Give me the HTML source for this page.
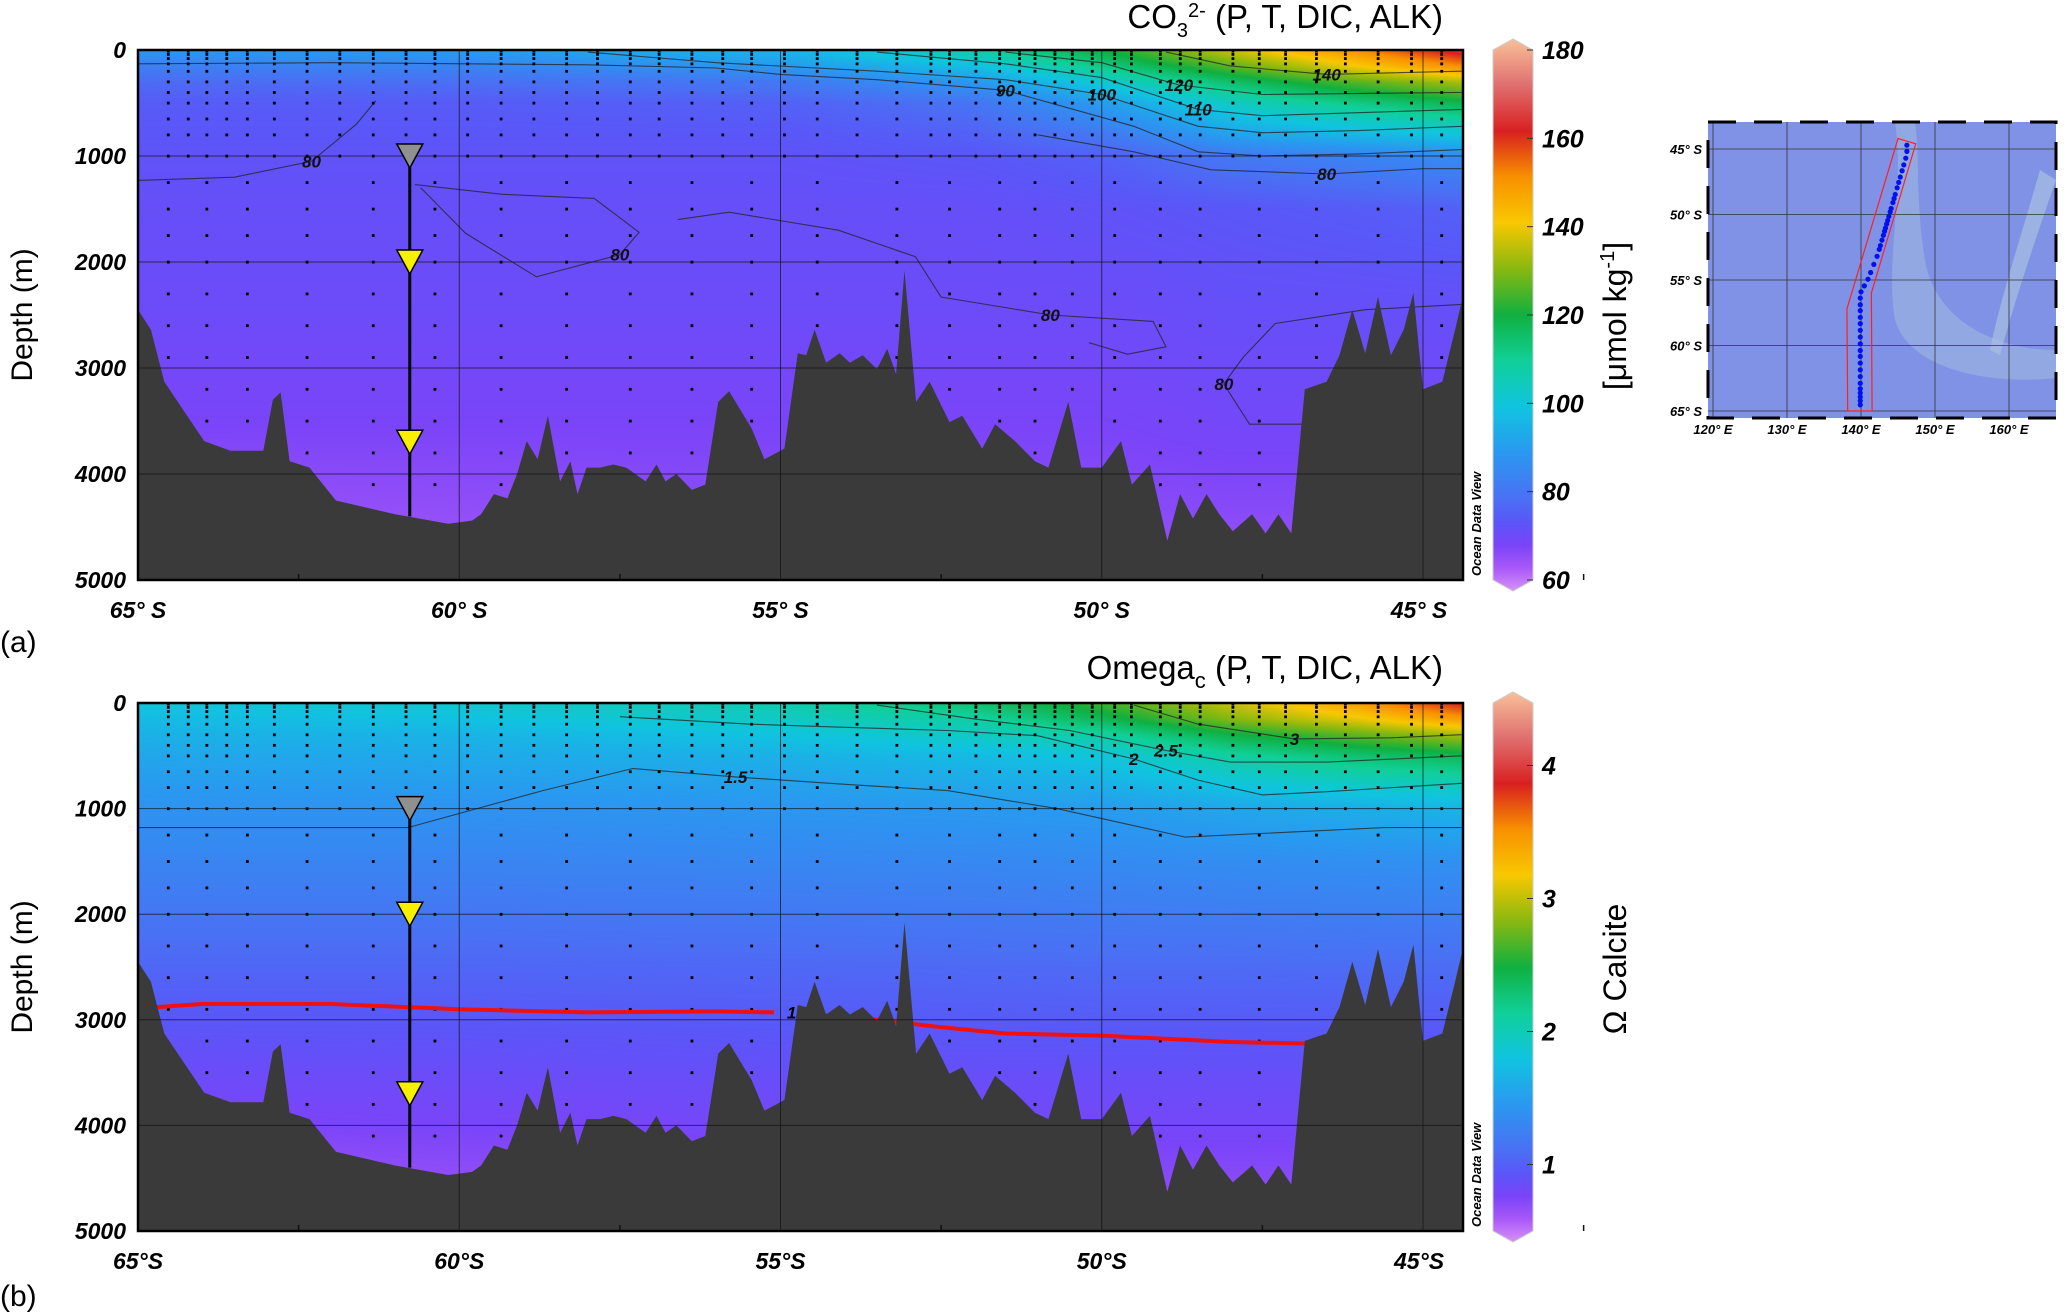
<!DOCTYPE html>
<html><head><meta charset="utf-8"><style>
html,body{margin:0;padding:0;background:#fff;}
#wrap{position:relative;width:2067px;height:1313px;overflow:hidden;font-family:"Liberation Sans",sans-serif;}
canvas{position:absolute;}
svg{position:absolute;left:0;top:0;}
</style></head><body>
<div id="wrap">
<canvas id="cvA" width="1325" height="530" style="left:138px;top:50px"></canvas>
<canvas id="cvB" width="1325" height="528" style="left:138px;top:703px"></canvas>
<svg id="sv" width="2067" height="1313"></svg>
</div>
<script>
// ---- data ----
const gridLats=[-65,-60,-55,-52,-50,-48,-46,-44.4];
const gridDepths=[0,150,300,500,800,1000,1500,2500,3500,4500,5000];
const co3Values=[
[90,91,97,108,120,136,150,163],
[84,85,90,99,112,126,140,150],
[79,80,82,90,102,115,126,133],
[76,76,77,81,91,104,112,118],
[75,75,75,77,82,92,97,100],
[74,74,74,75,77,82,85,87],
[73,73,73,73,74,75,76,77],
[72,72,72,72,72,73,73,73],
[70,70,70,70,70,71,71,71],
[66,67,68,68,68,68,68,68],
[64,65,66,66,66,66,66,66]];
const omegaValues=[
[1.85,1.9,2.05,2.3,2.6,3.0,3.4,3.8],
[1.75,1.8,1.95,2.1,2.4,2.8,3.1,3.4],
[1.68,1.7,1.82,1.95,2.1,2.45,2.7,2.9],
[1.6,1.62,1.68,1.75,1.85,2.1,2.3,2.4],
[1.5,1.52,1.55,1.6,1.65,1.8,1.9,1.95],
[1.45,1.45,1.48,1.5,1.52,1.6,1.65,1.7],
[1.33,1.33,1.35,1.36,1.38,1.4,1.42,1.43],
[1.1,1.1,1.11,1.12,1.13,1.13,1.14,1.14],
[0.9,0.91,0.93,0.93,0.93,0.93,0.93,0.93],
[0.72,0.75,0.78,0.78,0.78,0.78,0.78,0.78],
[0.66,0.7,0.72,0.72,0.72,0.72,0.72,0.72]];
const bathyLat=[-65,-64.8,-64.59,-64.38,-63.97,-63.56,-63.05,-62.9,-62.78,-62.64,-62.33,-61.92,-61.0,-60.17,-59.8,-59.66,-59.46,-59.25,-59.1,-58.95,-58.78,-58.62,-58.43,-58.27,-58.16,-58.02,-57.81,-57.6,-57.4,-57.1,-56.93,-56.79,-56.62,-56.38,-56.17,-55.97,-55.8,-55.45,-55.25,-54.94,-54.73,-54.6,-54.47,-54.29,-54.08,-53.92,-53.72,-53.5,-53.34,-53.2,-53.07,-52.89,-52.68,-52.37,-52.17,-51.86,-51.66,-51.35,-51.04,-50.83,-50.52,-50.32,-50.0,-49.7,-49.53,-49.25,-48.98,-48.78,-48.58,-48.37,-48.17,-47.96,-47.66,-47.45,-47.25,-47.05,-46.84,-46.5,-46.3,-46.1,-45.9,-45.7,-45.5,-45.3,-45.15,-45.0,-44.7,-44.5,-44.38];
const bathyDepth=[2450,2640,3130,3320,3690,3780,3780,3300,3230,3880,3940,4250,4380,4470,4440,4380,4190,4230,4000,3690,3860,3450,4070,3880,4190,3940,3940,3910,3940,4070,3910,4070,4000,4150,4100,3320,3220,3570,3860,3760,2860,2880,2640,2950,2860,2950,2880,3010,2820,3060,2080,3320,3130,3510,3450,3760,3530,3690,3880,3940,3320,3940,3940,3690,4100,3910,4630,4190,4420,4190,4380,4540,4380,4560,4380,4560,3200,3130,2880,2450,2860,2330,2880,2640,2290,3200,3130,2640,2330];
const stationLats=[-64.53,-64.22,-63.93,-63.62,-63.30,-62.88,-62.37,-61.86,-61.34,-60.83,-60.38,-59.87,-59.35,-58.84,-58.33,-57.85,-57.34,-56.89,-56.38,-55.90,-55.45,-54.94,-54.43,-53.81,-53.19,-52.66,-52.37,-51.96,-51.59,-51.28,-51.04,-50.73,-50.46,-50.15,-49.8,-49.54,-49.09,-48.78,-48.47,-47.96,-47.55,-47.14,-46.66,-46.21,-45.70,-45.18,-44.71];
const sampleDepths=[10,40,80,130,200,300,400,500,650,800,1000,1250,1500,1750,2000,2300,2600,2900,3200,3500,3800,4100];
const omega1Lat=[-64.7,-64,-62,-60,-58,-56,-55.1];
const omega1Depth=[2880,2850,2850,2900,2930,2920,2930];
const omega1bLat=[-54.7,-53.5,-52.5,-51.5,-50,-48,-46.4];
const omega1bDepth=[2940,3000,3070,3130,3150,3210,3230];
const co3Contours=[
 {label:"90",lat:[-65,-62,-58,-56,-55,-53.5,-51.5,-49.5,-48.5,-47.5,-46,-44.4],d:[130,120,140,170,230,280,380,720,960,1000,980,940]},
 {label:"100",lat:[-58,-56,-53.5,-51.5,-50,-48.5,-47.5,-46,-44.4],d:[20,120,200,280,420,720,780,760,720]},
 {label:"110",lat:[-53.5,-51.5,-50,-48.5,-47.5,-44.4],d:[20,130,260,560,620,560]},
 {label:"120",lat:[-51.5,-50,-48.8,-47.5,-44.4],d:[20,120,330,420,400]},
 {label:"140",lat:[-49,-48,-46.5,-44.4],d:[20,150,230,200]},
 {label:"80",lat:[-51,-49.5,-48.3,-46.5,-45,-44.4],d:[800,960,1130,1170,1120,1120]},
 {label:"80",lat:[-65,-63.5,-62.3,-61.6,-61.3],d:[1230,1200,1050,700,480]},
 {label:"80",lat:[-60.69,-59.35,-57.9,-57.2,-57.5,-58.8,-59.9,-60.6],d:[1270,1360,1400,1720,1930,2140,1730,1300]},
 {label:"80",lat:[-56.6,-55.8,-54.1,-52.9,-52.5,-50.8,-49.2,-49.0,-49.6,-50.2],d:[1600,1530,1700,1950,2330,2500,2560,2800,2870,2760]},
 {label:"80",lat:[-44.4,-45.9,-47.3,-47.8,-48.1,-47.7,-46.7,-46.3,-45.7],d:[2400,2450,2580,2900,3150,3530,3530,3300,3280]}];
const omegaContours=[
 {label:"1.5",lat:[-65,-62,-60.8,-60.2,-58.7,-57.9,-57.3,-55.7,-54,-52.4,-50.7,-48.7,-45.6,-44.4],d:[1180,1180,1180,1080,830,710,620,700,770,830,1000,1270,1180,1180]},
 {label:"2",lat:[-57.5,-55.5,-54,-52.4,-51,-49.5,-48.5,-47.5,-46.5,-44.4],d:[130,200,230,260,310,530,730,870,840,760]},
 {label:"2.5",lat:[-53.5,-52,-50.5,-49,-48,-46.5,-44.4],d:[20,150,260,450,560,560,500]},
 {label:"3",lat:[-49.5,-48.5,-47,-45.5,-44.4],d:[20,200,340,330,300]}];
const co3Ticks=[60,80,100,120,140,160,180];
const omegaTicks=[1,2,3,4];
const latTicks=[-65,-60,-55,-50,-45];
const depthTicks=[0,1000,2000,3000,4000,5000];
const mooringLat=-60.77;
const mooringInstrDepths=[1000,2000,3700];
const mapLonTicks=[120,130,140,150,160];
const mapLatTicks=[45,50,55,60,65];
const trackLat=[-65,-56,-55,-53,-45.4];
const trackLon=[139.9,139.9,140.9,142.3,146.2];
const boxLon=[138.2,141.5,141.4,147.4,145.0,138.1];
const boxLat=[65,65,56,44.6,44.2,57.2];
const cmapT=[0,0.042,0.083,0.125,0.167,0.25,0.333,0.417,0.5,0.583,0.667,0.75,0.833,0.917,1];
const cmapC=["#d890f8","#a858f8","#7a44f8","#5a56f8","#4a70f4","#2a98f0","#10c4e0","#10d098","#10b040","#88b810","#f8c800","#f89000","#d82020","#e07070","#f8c098"];

const X0=138,X1=1463;
const xLat=l=>X0+(l+65)*(1285/20);
const plots=[{y0:50,y1:580},{y0:703,y1:1231}];
const yD=(p,d)=>p.y0+d/5000*(p.y1-p.y0);

function interp(xs,ys,x){if(x<=xs[0])return ys[0];for(let i=1;i<xs.length;i++){if(x<=xs[i]){const t=(x-xs[i-1])/(xs[i]-xs[i-1]);return ys[i-1]+t*(ys[i]-ys[i-1]);}}return ys[ys.length-1];}
function hex(c){return[parseInt(c.substr(1,2),16),parseInt(c.substr(3,2),16),parseInt(c.substr(5,2),16)];}
const cmapRGB=cmapC.map(hex);
function cmap(t){t=Math.max(0,Math.min(1,t));for(let i=1;i<cmapT.length;i++){if(t<=cmapT[i]){const f=(t-cmapT[i-1])/(cmapT[i]-cmapT[i-1]);const a=cmapRGB[i-1],b=cmapRGB[i];return[a[0]+f*(b[0]-a[0]),a[1]+f*(b[1]-a[1]),a[2]+f*(b[2]-a[2])];}}return cmapRGB[cmapRGB.length-1];}
function field(vals,lat,d){
 let j=0;while(j<gridLats.length-2&&lat>gridLats[j+1])j++;
 let i=0;while(i<gridDepths.length-2&&d>gridDepths[i+1])i++;
 const fx=Math.max(0,Math.min(1,(lat-gridLats[j])/(gridLats[j+1]-gridLats[j])));
 const fy=Math.max(0,Math.min(1,(d-gridDepths[i])/(gridDepths[i+1]-gridDepths[i])));
 const a=vals[i][j]*(1-fx)+vals[i][j+1]*fx,b=vals[i+1][j]*(1-fx)+vals[i+1][j+1]*fx;return a*(1-fy)+b*fy;}
function drawField(id,vals,vmin,vmax){
 const cv=document.getElementById(id),ctx=cv.getContext('2d'),W=cv.width,H=cv.height;
 const img=ctx.createImageData(W,H);
 for(let y=0;y<H;y++){const d=y/H*5000;for(let x=0;x<W;x++){const lat=-65+x/(1285/20);
  const c=cmap((field(vals,lat,d)-vmin)/(vmax-vmin));const k=(y*W+x)*4;img.data[k]=c[0];img.data[k+1]=c[1];img.data[k+2]=c[2];img.data[k+3]=255;}}
 ctx.putImageData(img,0,0);}
drawField('cvA',co3Values,60,180);
drawField('cvB',omegaValues,0.5,4.47);

const NS='http://www.w3.org/2000/svg';const sv=document.getElementById('sv');
function el(tag,attrs,parent,txt){const e=document.createElementNS(NS,tag);for(const k in attrs)e.setAttribute(k,attrs[k]);if(txt!==undefined)e.textContent=txt;(parent||sv).appendChild(e);return e;}

plots.forEach((p,pi)=>{
 const g=el('g',{});
 
 
 (pi?omegaContours:co3Contours).forEach(c=>{
  const pts=c.lat.map((l,k)=>xLat(l).toFixed(1)+','+yD(p,c.d[k]).toFixed(1)).join(' ');
  const pl=el('polyline',{points:pts,fill:'none',stroke:'#222','stroke-width':1.1,'stroke-opacity':0.75},g);
  
  
  const m=Math.floor(c.lat.length/2);
  const lb=el('text',{x:xLat(c.lat[m]),y:yD(p,c.d[m])+6,'font-size':17,'font-style':'italic','font-weight':'bold',fill:'#111','text-anchor':'middle'},g,c.label);
  
  
 });
 stationLats.forEach((l,si)=>{const bd=interp(bathyLat,bathyDepth,l);sampleDepths.forEach(d=>{if(d<bd-60&&(d<1100||si%2===0)){
  const r=el('rect',{x:xLat(l)-1.3,y:yD(p,d)-1.3,width:2.8,height:2.8,fill:'#000'},g);
  
  }});});
 if(pi){[[omega1Lat,omega1Depth],[omega1bLat,omega1bDepth]].forEach(s=>{
  const pl=el('polyline',{points:s[0].map((l,k)=>xLat(l)+','+yD(p,s[1][k])).join(' '),fill:'none',stroke:'#f01010','stroke-width':4},g);
  
  });
  const t=el('text',{x:xLat(-54.9),y:yD(p,2930)+6,'font-size':17,'font-style':'italic','font-weight':'bold'},g,'1');
  
  }
 let bp=xLat(-65)+','+p.y1+' '+bathyLat.map((l,k)=>xLat(l).toFixed(1)+','+yD(p,bathyDepth[k]).toFixed(1)).join(' ')+' '+X1+','+p.y1;
 const poly=el('polygon',{points:bp,fill:'#3a3a3a'},g);
 
 
 depthTicks.forEach(d=>{if(d>0&&d<5000){const ln=el('line',{x1:X0,x2:X1,y1:yD(p,d),y2:yD(p,d),stroke:'#111','stroke-width':1,'stroke-opacity':0.7},g);
  
  }
  const t=el('text',{x:126,y:yD(p,d)+8,'font-size':23,'font-weight':'bold','font-style':'italic','text-anchor':'end'},g,String(d));
  
  });
 latTicks.forEach(l=>{if(l>-65){const ln=el('line',{x1:xLat(l),x2:xLat(l),y1:p.y0,y2:p.y1,stroke:'#111','stroke-width':1,'stroke-opacity':0.7},g);
  
  }
  const mt=el('line',{x1:xLat(l+2.5),x2:xLat(l+2.5),y1:p.y1-6,y2:p.y1,stroke:'#111','stroke-width':1.5},g);
  
  
  const t=el('text',{x:xLat(l)+(l===-45?-4:0),y:p.y1+38,'font-size':23,'font-weight':'bold','font-style':'italic','text-anchor':'middle'},g,pi?(-l)+'°S':(-l)+'° S');
  
  });
 const mx=xLat(mooringLat);
 const ml=el('line',{x1:mx,x2:mx,y1:yD(p,mooringInstrDepths[0]),y2:yD(p,4400),stroke:'#000','stroke-width':3},g);
 
 
 mooringInstrDepths.forEach((d,k)=>{const y=yD(p,d);
  const tr=el('polygon',{points:(mx-13)+','+(y-12)+' '+(mx+13)+','+(y-12)+' '+mx+','+(y+12),fill:k?'#f8f000':'#909090',stroke:'#000','stroke-width':1.5},g);
  
  });
 const fr=el('rect',{x:X0,y:p.y0,width:X1-X0,height:p.y1-p.y0,fill:'none',stroke:'#000','stroke-width':2.5},g);
 
 
 const odv=el('text',{transform:'translate(1481,'+(p.y1-4)+') rotate(-90)','font-size':13,'font-weight':'bold','font-style':'italic'},g,'Ocean Data View');
 
 
 const yl=el('text',{transform:'translate(32,'+((p.y0+p.y1)/2)+') rotate(-90)','font-size':30,'text-anchor':'middle'},g,'Depth (m)');
 
 
 const gid='grad'+pi;const gr=el('linearGradient',{id:gid,x1:0,y1:1,x2:0,y2:0},el('defs',{},g));
 cmapT.forEach((t,k)=>el('stop',{offset:t,'stop-color':cmapC[k]},gr));
 const cb=el('polygon',{points:'1493,'+p.y0+' 1513,'+(p.y0-11)+' 1533,'+p.y0+' 1533,'+p.y1+' 1513,'+(p.y1+11)+' 1493,'+p.y1,fill:'url(#'+gid+')',stroke:'#ccc','stroke-width':1},g);
 
 
 const vmin=pi?0.5:60,vmax=pi?4.47:180;
 (pi?omegaTicks:co3Ticks).forEach(v=>{const y=p.y1-(v-vmin)/(vmax-vmin)*(p.y1-p.y0);
  el('line',{x1:1527,x2:1533,y1:y,y2:y,stroke:'#333'},g);
  const t=el('text',{x:1542,y:y+9,'font-size':25,'font-weight':'bold','font-style':'italic'},g,String(v));
  
  });
});
</script>
<svg width="2067" height="1313" style="position:absolute;left:0;top:0">
<text x="1443" y="28" font-size="33" text-anchor="end" font-family="Liberation Sans, sans-serif">CO<tspan font-size="20" dy="9">3</tspan><tspan font-size="20" dy="-20">2-</tspan><tspan dy="11"> (P, T, DIC, ALK)</tspan></text>
<text x="1443" y="679" font-size="33" text-anchor="end" font-family="Liberation Sans, sans-serif">Omega<tspan font-size="22" dy="9">c</tspan><tspan dy="-9"> (P, T, DIC, ALK)</tspan></text>
<text x="0" y="652" font-size="30" font-family="Liberation Sans, sans-serif">(a)</text>
<text x="0" y="1306" font-size="30" font-family="Liberation Sans, sans-serif">(b)</text>
<text transform="translate(1626,316) rotate(-90)" font-size="32" text-anchor="middle" font-family="Liberation Sans, sans-serif">[μmol kg<tspan font-size="20" dy="-12">-1</tspan><tspan dy="12">]</tspan></text>
<text transform="translate(1626,969) rotate(-90)" font-size="32" text-anchor="middle" font-family="Liberation Sans, sans-serif">Ω  Calcite</text>
</svg>
<svg id="map" width="2067" height="1313" style="position:absolute;left:0;top:0"></svg>
<script>
const xLon=l=>1713+(l-120)*7.4;
const yLatM=l=>149+(l-45)*13.1;
const M=document.getElementById('map');
function me(tag,a,txt){const e=document.createElementNS('http://www.w3.org/2000/svg',tag);for(const k in a)e.setAttribute(k,a[k]);if(txt!==undefined)e.textContent=txt;M.appendChild(e);return e;}
const bg=me('rect',{x:1708,y:122,width:348,height:296,fill:'#8092e6'});


const ridge=me('path',{d:'M1895,122 C1905,190 1885,260 1895,320 C1910,370 1990,385 2056,378 L2056,350 C1995,350 1935,320 1925,260 C1915,200 1920,150 1915,122 Z',fill:'#9eb8e0',opacity:0.6});


const ridge2=me('path',{d:'M2040,170 C2020,240 2000,300 1990,350 L2000,355 C2015,300 2035,240 2056,180 Z',fill:'#a8c0e0',opacity:0.7});


const land=me('rect',{x:1708,y:yLatM(65.8),width:348,height:418-yLatM(65.8),fill:'#d8d0c0'});


mapLonTicks.forEach(l=>{const ln=me('line',{x1:xLon(l),x2:xLon(l),y1:122,y2:418,stroke:'#333','stroke-width':0.8});
 
 
 const t=me('text',{x:xLon(l),y:434,'font-size':13,'font-weight':'bold','font-style':'italic','text-anchor':'middle','font-family':'Liberation Sans, sans-serif'},l+'° E');
 
 });
mapLatTicks.forEach(l=>{const ln=me('line',{x1:1708,x2:2056,y1:yLatM(l),y2:yLatM(l),stroke:'#333','stroke-width':0.8});
 
 
 const t=me('text',{x:1702,y:yLatM(l)+5,'font-size':13,'font-weight':'bold','font-style':'italic','text-anchor':'end','font-family':'Liberation Sans, sans-serif'},l+'° S');
 
 });
const box=me('polygon',{points:boxLon.map((l,k)=>xLon(l)+','+yLatM(boxLat[k])).join(' '),fill:'none',stroke:'#ff2020','stroke-width':1.2});


stationLats.forEach(l=>{const lon=interp(trackLon.length?trackLat:trackLat,trackLon,l);
 const c=me('circle',{cx:xLon(lon),cy:yLatM(-l),r:2.6,fill:'#0010f0'});
 
 });
const fr=me('rect',{x:1708,y:122,width:348,height:296,fill:'none',stroke:'#000','stroke-width':3,'stroke-dasharray':'28,18'});


</script>
</body></html>
